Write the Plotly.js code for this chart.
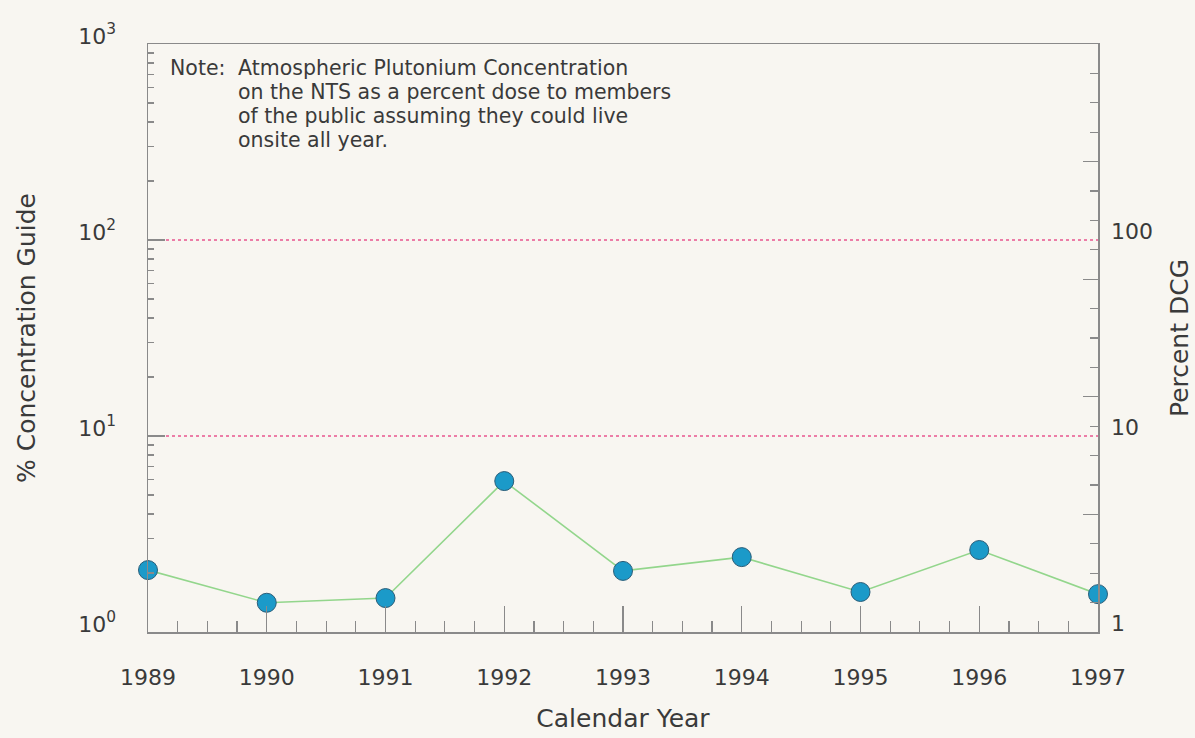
<!DOCTYPE html>
<html>
<head>
<meta charset="utf-8">
<script src="https://cdn.plot.ly/plotly-3.0.1.min.js"></script>
<style>
  html, body { margin: 0; padding: 0; background: #f8f6f1; }
  #chart { width: 1195px; height: 738px; }
</style>
</head>
<body>
<div id="chart"></div>
<script>
// ---- data ----
const years = [1989, 1990, 1991, 1992, 1993, 1994, 1995, 1996, 1997];
const pctConcentration = [2.07, 1.41, 1.49, 5.89, 2.05, 2.41, 1.60, 2.62, 1.56];
const refLevels = [10, 100];
const leftTickVals = [1, 10, 100, 1000];
const leftTickText = ['10<sup>0</sup>', '10<sup>1</sup>', '10<sup>2</sup>', '10<sup>3</sup>'];
const rightTickVals = [1, 10, 100];
const rightTickText = ['1', '10', '100'];
const noteLabel = 'Note:';
const noteLines = [
  'Atmospheric Plutonium Concentration',
  'on the NTS as a percent dose to members',
  'of the public assuming they could live',
  'onsite all year.'
];

const FONT = 'DejaVu Sans, Liberation Sans, Arial, sans-serif';
const TXT = '#3a3a3a';
const AX = '#8a8a8a';
const BG = '#f8f6f1';

const traces = [];
// empty trace so the right-hand tick axis is built
traces.push({ x: [], y: [], mode: 'lines', hoverinfo: 'skip', showlegend: false, yaxis: 'y2' });
refLevels.forEach(v => {
  traces.push({
    x: [years[0], years[years.length - 1]],
    y: [v, v],
    mode: 'lines',
    line: { color: '#e8558f', width: 1.6, dash: 'dot' },
    hoverinfo: 'skip',
    showlegend: false,
    yaxis: 'y3'
  });
});
traces.push({
  x: years,
  y: pctConcentration,
  mode: 'lines+markers',
  line: { color: '#93d68c', width: 1.6 },
  marker: { size: 19, color: '#1b9ac9', line: { color: '#2b5d78', width: 1 } },
  cliponaxis: false,
  showlegend: false,
  yaxis: 'y'
});

const annotations = [];
annotations.push({
  xref: 'paper', yref: 'paper', x: 0.021, y: 0.959,
  xanchor: 'left', yanchor: 'middle', showarrow: false,
  text: noteLabel, font: { family: FONT, size: 20.5, color: TXT }
});
noteLines.forEach((t, i) => {
  annotations.push({
    xref: 'paper', yref: 'paper', x: 0.093, y: 0.959 - i * 0.0408,
    xanchor: 'left', yanchor: 'middle', showarrow: false,
    text: t, font: { family: FONT, size: 20.5, color: TXT }
  });
});

const layout = {
  width: 1195, height: 738,
  paper_bgcolor: BG, plot_bgcolor: BG,
  margin: { l: 148, r: 97, t: 44, b: 106 },
  font: { family: FONT, color: TXT, size: 22 },
  showlegend: false,
  xaxis: {
    range: [1989, 1997],
    tickvals: years,
    ticktext: years.map(String),
    ticks: 'inside', ticklen: 26, tickwidth: 1.2, tickcolor: AX,
    minor: { dtick: 0.25, ticks: 'inside', ticklen: 11, tickwidth: 1.2, tickcolor: AX },
    showgrid: false, zeroline: false,
    showline: true, linecolor: AX, linewidth: 1.5, mirror: true,
    ticklabelstandoff: 25,
    tickfont: { family: FONT, size: 22, color: TXT },
    title: { text: 'Calendar Year', font: { family: FONT, size: 25, color: TXT }, standoff: 20 },
    automargin: false
  },
  yaxis: {
    type: 'log', range: [0, 3],
    tickvals: leftTickVals, ticktext: leftTickText,
    ticks: 'inside', ticklen: 17, tickwidth: 1.2, tickcolor: AX,
    minor: { dtick: 'D1', ticks: 'inside', ticklen: 6, tickwidth: 1.2, tickcolor: AX, showgrid: false },
    showgrid: false, zeroline: false,
    showline: true, linecolor: AX, linewidth: 1.5,
    ticklabelstandoff: 26,
    ticklabelshift: -8,
    tickfont: { family: FONT, size: 22, color: TXT },
    title: { text: '% Concentration Guide', font: { family: FONT, size: 25, color: TXT }, standoff: 35 },
    automargin: false
  },
  yaxis2: {
    overlaying: 'y', side: 'right', anchor: 'x',
    range: [0, 20],
    dtick: 4, tick0: 0,
    ticks: 'inside', ticklen: 15, tickwidth: 1.2, tickcolor: AX,
    minor: { dtick: 1, ticks: 'inside', ticklen: 8, tickwidth: 1.2, tickcolor: AX, showgrid: false },
    showticklabels: false,
    showgrid: false, zeroline: false,
    showline: true, linecolor: AX, linewidth: 1.5,
    automargin: false
  },
  yaxis3: {
    overlaying: 'y', side: 'right', anchor: 'x',
    type: 'log', range: [0, 3],
    tickvals: rightTickVals, ticktext: rightTickText,
    ticks: '', showline: false, showgrid: false, zeroline: false,
    ticklabelstandoff: 12,
    ticklabelshift: -9,
    tickfont: { family: FONT, size: 22, color: TXT },
    title: { text: 'Percent DCG', font: { family: FONT, size: 25, color: TXT }, standoff: 18 },
    automargin: false
  },
  annotations: annotations
};

Plotly.newPlot('chart', traces, layout, { displayModeBar: false, staticPlot: true });
</script>
</body>
</html>
